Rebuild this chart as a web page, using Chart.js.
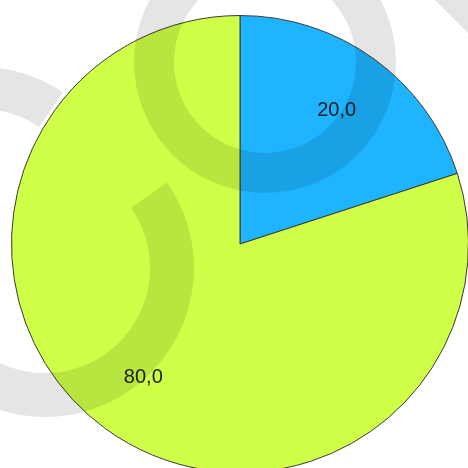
<!DOCTYPE html>
<html>
<head>
<meta charset="utf-8">
<script src="https://cdn.jsdelivr.net/npm/chart.js@4/dist/chart.umd.min.js"></script>
<style>
  html, body { margin: 0; padding: 0; background: #ffffff; overflow: hidden; width: 468px; height: 468px; }
  #wrap { position: absolute; left: 0; top: 0; width: 480px; height: 480px; }
</style>
</head>
<body>
<div id="wrap"><canvas id="c"></canvas></div>
<script>
const categories = ['A', 'B'];
const values = [20.0, 80.0];
const sliceColors = ['#1EB4FF', '#CFFF47'];

// decorative background watermark (translucent grey rings over the picture)
const watermark = {
  id: 'watermark',
  afterDraw(chart) {
    const ctx = chart.ctx;
    const d = Math.PI / 180;
    ctx.save();
    ctx.strokeStyle = 'rgba(0,0,0,0.1)';
    ctx.fillStyle = 'rgba(0,0,0,0.1)';
    ctx.lineCap = 'butt';
    ctx.lineWidth = 40;
    ctx.beginPath(); ctx.arc(265, 62, 111, 0, 2 * Math.PI); ctx.stroke();
    ctx.lineWidth = 44;
    ctx.beginPath(); ctx.arc(45, 268, 127, -35 * d, 235 * d); ctx.stroke();
    ctx.lineWidth = 42;
    ctx.beginPath(); ctx.arc(-20, 215, 127, 180 * d, 304 * d); ctx.stroke();
    ctx.beginPath(); ctx.moveTo(435, 0); ctx.lineTo(490, 55); ctx.lineTo(490, 0); ctx.closePath(); ctx.fill();
    ctx.restore();
  }
};

const valueLabels = {
  id: 'valueLabels',
  afterDatasetsDraw(chart) {
    const ctx = chart.ctx;
    const meta = chart.getDatasetMeta(0);
    ctx.save();
    ctx.font = '20px "Liberation Sans", Arial, sans-serif';
    ctx.fillStyle = '#1e1e1e';
    ctx.textAlign = 'center';
    ctx.textBaseline = 'middle';
    meta.data.forEach((arc, i) => {
      const p = arc.getProps(['x', 'y', 'startAngle', 'endAngle', 'outerRadius']);
      const mid = (p.startAngle + p.endAngle) / 2;
      const r = p.outerRadius * 0.72;
      const txt = values[i].toFixed(1).replace('.', ',');
      ctx.fillText(txt, p.x + Math.cos(mid) * r, p.y + Math.sin(mid) * r);
    });
    ctx.restore();
  }
};

new Chart(document.getElementById('c'), {
  type: 'pie',
  data: {
    labels: categories,
    datasets: [{
      data: values,
      backgroundColor: sliceColors,
      borderColor: '#3a3a3a',
      borderWidth: 1,
      hoverOffset: 0
    }]
  },
  options: {
    responsive: true,
    maintainAspectRatio: false,
    animation: false,
    layout: { padding: { left: 11, top: 15, right: 11, bottom: 7 } },
    plugins: {
      legend: { display: false },
      tooltip: { enabled: false },
      title: { display: false }
    }
  },
  plugins: [valueLabels, watermark]
});
</script>
</body>
</html>
